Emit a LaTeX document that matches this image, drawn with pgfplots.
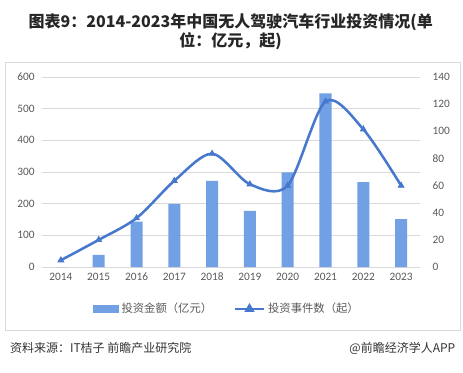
\documentclass[border=0pt]{standalone}
\usepackage{pgfplots}
\pgfplotsset{compat=1.18}
\usepackage{fontspec}
\setmainfont{Carlito}
\newfontfamily\cjk{Noto Sans CJK SC}
\definecolor{barblue}{RGB}{114,160,228}
\definecolor{lineblue}{RGB}{70,120,205}
\definecolor{txtgray}{RGB}{89,89,89}
\definecolor{gridgray}{RGB}{217,217,217}
\begin{document}
\begin{tikzpicture}
\path[use as bounding box] (0,0) rectangle (347.25pt,279pt);
% frame
\draw[gridgray, line width=0.6pt] (3.75pt,31.5pt) rectangle (345pt,232.5pt);
% title
\node[anchor=center, font=\cjk\bfseries\fontsize{12}{14}\selectfont, text=black!85] at (173pt,262.5pt) {图表9：2014-2023年中国无人驾驶汽车行业投资情况(单};
\node[anchor=center, font=\cjk\bfseries\fontsize{12}{14}\selectfont, text=black!85] at (173pt,248.25pt) {位：亿元，起)};
% source
\node[anchor=west, font=\cjk\fontsize{9}{11}\selectfont, text=black!80] at (4pt,18pt) {资料来源：IT桔子 前瞻产业研究院};
\node[anchor=east, font=\cjk\fontsize{9}{11}\selectfont, text=black!80] at (345pt,18pt) {@前瞻经济学人APP};
\begin{axis}[
  at={(31.5pt,78.75pt)}, anchor=south west,
  scale only axis, width=283.5pt, height=142.5pt,
  xmin=-0.5, xmax=9.5, ymin=0, ymax=600,
  axis y line*=left, axis x line*=bottom,
  axis line style={draw=none},
  x axis line style={draw=gridgray, line width=0.6pt},
  xtick={0,...,9},
  xticklabels={2014,2015,2016,2017,2018,2019,2020,2021,2022,2023},
  ytick={0,100,...,600},
  major tick length=0pt,
  ymajorgrids, grid style={gridgray, line width=0.6pt},
  tick label style={font=\fontsize{8.5}{10}\selectfont, text=txtgray},
  /pgf/number format/assume math mode=true,
  yticklabel style={xshift=-2pt},
  xticklabel style={yshift=-1pt},
]
\addplot[ybar, bar width=9pt, fill=barblue, draw=none, bar shift=0pt] coordinates {
(0,0) (1,38) (2,143) (3,199) (4,272) (5,177) (6,299) (7,548) (8,268) (9,151)};
\end{axis}
\begin{axis}[
  at={(31.5pt,78.75pt)}, anchor=south west,
  scale only axis, width=283.5pt, height=142.5pt,
  xmin=-0.5, xmax=9.5, ymin=0, ymax=140,
  axis y line*=right, axis x line=none,
  axis line style={draw=none},
  ytick={0,20,...,140},
  major tick length=0pt,
  tick label style={font=\fontsize{8.5}{10}\selectfont, text=txtgray},
  /pgf/number format/assume math mode=true,
  yticklabel style={xshift=6pt},
  legend style={at={(0.49,-0.221)}, anchor=center, draw=none, fill=none,
    font=\cjk\fontsize{8.5}{10}\selectfont, text=txtgray,
    /tikz/every odd column/.append style={column sep=0pt},
    /tikz/every even column/.append style={column sep=14pt},
    inner xsep=0pt},
  legend columns=2,
  legend cell align=left,
]
\addlegendimage{legend image code/.code={\fill[barblue] (0pt,-2.6pt) rectangle (19pt,2.6pt);}}
\addlegendentry{投资金额（亿元）}
\addplot[lineblue, line width=1.9pt, smooth, mark=triangle*, mark size=2.6pt, mark options={solid, fill=lineblue, line width=0.5pt},
  legend image code/.code={\draw[lineblue, line width=1.9pt] (0pt,0pt) -- (22pt,0pt);
    \fill[lineblue] (11pt,0pt) ++(90:2.6pt) -- ++(-120:4.5pt) -- ++(0:4.5pt) -- cycle;}] coordinates {
(0,5) (1,20) (2,36) (3,63.5) (4,83.5) (5,61) (6,60) (7,122) (8,101.5) (9,60)};
\addlegendentry{投资事件数（起）}
\end{axis}
\end{tikzpicture}
\end{document}
